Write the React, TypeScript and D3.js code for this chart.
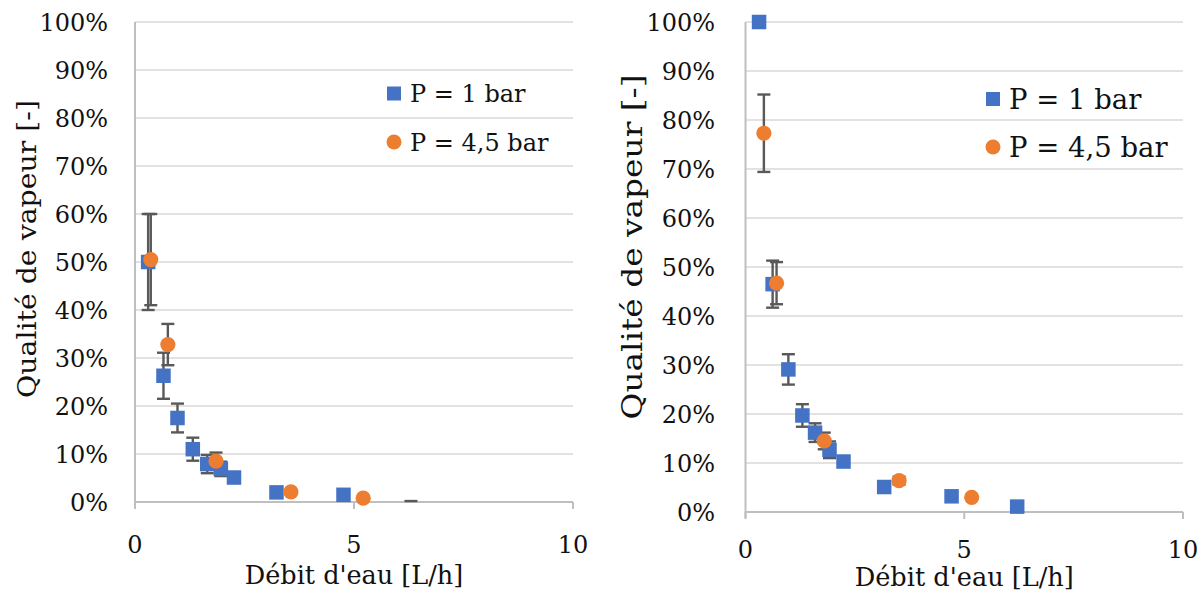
import React from "react";
import * as d3 from "d3";

// ---------- DATA ----------
// Each point: [débit (L/h), qualité (fraction), erreur (fraction)]
const leftP1: [number, number, number][] = [
  [0.3, 0.5, 0.1],
  [0.65, 0.263, 0.048],
  [0.97, 0.175, 0.03],
  [1.32, 0.11, 0.024],
  [1.65, 0.079, 0.019],
  [1.96, 0.069, 0.015],
  [2.26, 0.051, 0],
  [3.23, 0.02, 0],
  [4.76, 0.015, 0],
  [6.3, -0.005, 0.007],
];
const leftP45: [number, number, number][] = [
  [0.36, 0.505, 0.095],
  [0.75, 0.328, 0.043],
  [1.85, 0.085, 0.018],
  [3.56, 0.021, 0],
  [5.21, 0.008, 0],
];
const rightP1: [number, number, number][] = [
  [0.31, 1.0, 0],
  [0.62, 0.465, 0.048],
  [0.98, 0.291, 0.031],
  [1.3, 0.197, 0.023],
  [1.59, 0.162, 0.019],
  [1.92, 0.127, 0.017],
  [2.24, 0.103, 0],
  [3.17, 0.051, 0],
  [4.71, 0.032, 0],
  [6.21, 0.011, 0],
];
const rightP45: [number, number, number][] = [
  [0.42, 0.773, 0.079],
  [0.71, 0.467, 0.043],
  [1.8, 0.145, 0.017],
  [3.51, 0.064, 0.008],
  [5.17, 0.03, 0],
];
const xTicks = [0, 5, 10];
const yTicks = [0, 0.1, 0.2, 0.3, 0.4, 0.5, 0.6, 0.7, 0.8, 0.9, 1.0];
const seriesNames = ["P = 1 bar", "P = 4,5 bar"];
const xTitle = "Débit d'eau [L/h]";
const yTitle = "Qualité de vapeur [-]";

// ---------- STYLE ----------
const BLUE = "#4472C4";
const ORANGE = "#ED7D31";
const ERR = "#595959";
const GRID = "#d9d9d9";
const AXIS = "#bfbfbf";
const FONT = "DejaVu Serif";
const TXT = "#111";

type Pt = [number, number, number];

interface PanelProps {
  x0: number; x1: number; yTop: number; yBot: number;
  s1: Pt[]; s2: Pt[];
  tickFont: number; xTitleFont: number; yTitleFont: number; yTitleLen: number; legendFont: number;
  sy: number;
  yLabelX: number; xLabelY: number; xTitleY: number; yTitleX: number; yTitleY: number;
  legX: number; legY1: number; legY2: number;
}

function Panel(p: PanelProps) {
  const x = d3.scaleLinear().domain([0, 10]).range([p.x0, p.x1]);
  const y = d3.scaleLinear().domain([0, 1]).range([p.yBot, p.yTop]);
  const fmt = d3.format(".0%");
  const inRange = (v: number) => v >= 0 && v <= 1;
  const clampY = (v: number) => Math.max(0, Math.min(1, v));
  const cap = 6.5;
  const sq = 14.5;
  const r = 7.6;
  const errBars = (data: Pt[], key: string) =>
    data.filter((d) => d[2] > 0).map((d, i) => {
      const cx = x(d[0]);
      const top = y(clampY(d[1] + d[2]));
      const bot = y(clampY(d[1] - d[2]));
      const showTop = d[1] + d[2] <= 1 && d[1] + d[2] >= 0;
      const showBot = d[1] - d[2] >= 0;
      return (
        <g key={key + i} stroke={ERR} strokeWidth={2.4}>
          {top !== bot && <line x1={cx} x2={cx} y1={top} y2={bot} />}
          {showTop && <line x1={cx - cap} x2={cx + cap} y1={top} y2={top} />}
          {showBot && <line x1={cx - cap} x2={cx + cap} y1={bot} y2={bot} />}
        </g>
      );
    });
  const T = (props: { x: number; y: number; anchor: string; size: number; dy?: string; children: React.ReactNode }) => (
    <text transform={`translate(${props.x},${props.y}) scale(1,${p.sy})`} textAnchor={props.anchor}
      dy={props.dy} fontFamily={FONT} fontSize={props.size} fill={TXT}>{props.children}</text>
  );
  return (
    <g>
      {yTicks.map((t) => (
        <line key={"g" + t} x1={p.x0} x2={p.x1} y1={y(t)} y2={y(t)}
          stroke={t === 0 ? AXIS : GRID} strokeWidth={t === 0 ? 2 : 1.5} />
      ))}
      <line x1={p.x0} x2={p.x0} y1={p.yTop} y2={p.yBot + 6} stroke={AXIS} strokeWidth={2} />
      {xTicks.map((t) => (
        <line key={"xt" + t} x1={x(t)} x2={x(t)} y1={p.yBot} y2={p.yBot + 7}
          stroke={AXIS} strokeWidth={2} />
      ))}
      {yTicks.map((t) => (
        <T key={"yl" + t} x={p.yLabelX} y={y(t)} dy="0.36em" anchor="end" size={p.tickFont}>{fmt(t)}</T>
      ))}
      {xTicks.map((t) => (
        <T key={"xl" + t} x={x(t)} y={p.xLabelY} anchor="middle" size={p.tickFont}>{t}</T>
      ))}
      <T x={(p.x0 + p.x1) / 2} y={p.xTitleY} anchor="middle" size={p.xTitleFont}>{xTitle}</T>
      <text transform={`translate(${p.yTitleX},${p.yTitleY}) rotate(-90)`} textAnchor="middle"
        dy="0.36em" fontFamily={FONT} fontSize={p.yTitleFont} fill={TXT}
        textLength={p.yTitleLen} lengthAdjust="spacingAndGlyphs">{yTitle}</text>
      {errBars(p.s1, "e1")}
      {errBars(p.s2, "e2")}
      {p.s1.filter((d) => inRange(d[1])).map((d, i) => (
        <rect key={"s" + i} x={x(d[0]) - sq / 2} y={y(d[1]) - sq / 2} width={sq} height={sq}
          fill={BLUE} />
      ))}
      {p.s2.filter((d) => inRange(d[1])).map((d, i) => (
        <circle key={"c" + i} cx={x(d[0])} cy={y(d[1])} r={r} fill={ORANGE} />
      ))}
      <rect x={p.legX - 7} y={p.legY1 - 7} width={14} height={14} fill={BLUE} />
      <T x={p.legX + 16} y={p.legY1} dy="0.36em" anchor="start" size={p.legendFont}>{seriesNames[0]}</T>
      <circle cx={p.legX} cy={p.legY2} r={7.5} fill={ORANGE} />
      <T x={p.legX + 16} y={p.legY2} dy="0.36em" anchor="start" size={p.legendFont}>{seriesNames[1]}</T>
    </g>
  );
}

export default function App() {
  return (
    <svg width={1204} height={594} style={{ position: "absolute", left: 0, top: 0, background: "#fff" }}>
      <rect width={1204} height={594} fill="#fff" />
      <Panel x0={135} x1={573} yTop={22} yBot={502} s1={leftP1} s2={leftP45}
        tickFont={24} xTitleFont={25.5} yTitleFont={26} yTitleLen={298} legendFont={24} sy={1.0}
        yLabelX={108} xLabelY={553} xTitleY={584} yTitleX={27} yTitleY={249}
        legX={394} legY1={93.5} legY2={142} />
      <Panel x0={745.5} x1={1183} yTop={22} yBot={512} s1={rightP1} s2={rightP45}
        tickFont={24} xTitleFont={25.6} yTitleFont={28} yTitleLen={345} legendFont={27.5} sy={1.0}
        yLabelX={715} xLabelY={558} xTitleY={586} yTitleX={632} yTitleY={247}
        legX={993} legY1={99} legY2={147} />
    </svg>
  );
}
